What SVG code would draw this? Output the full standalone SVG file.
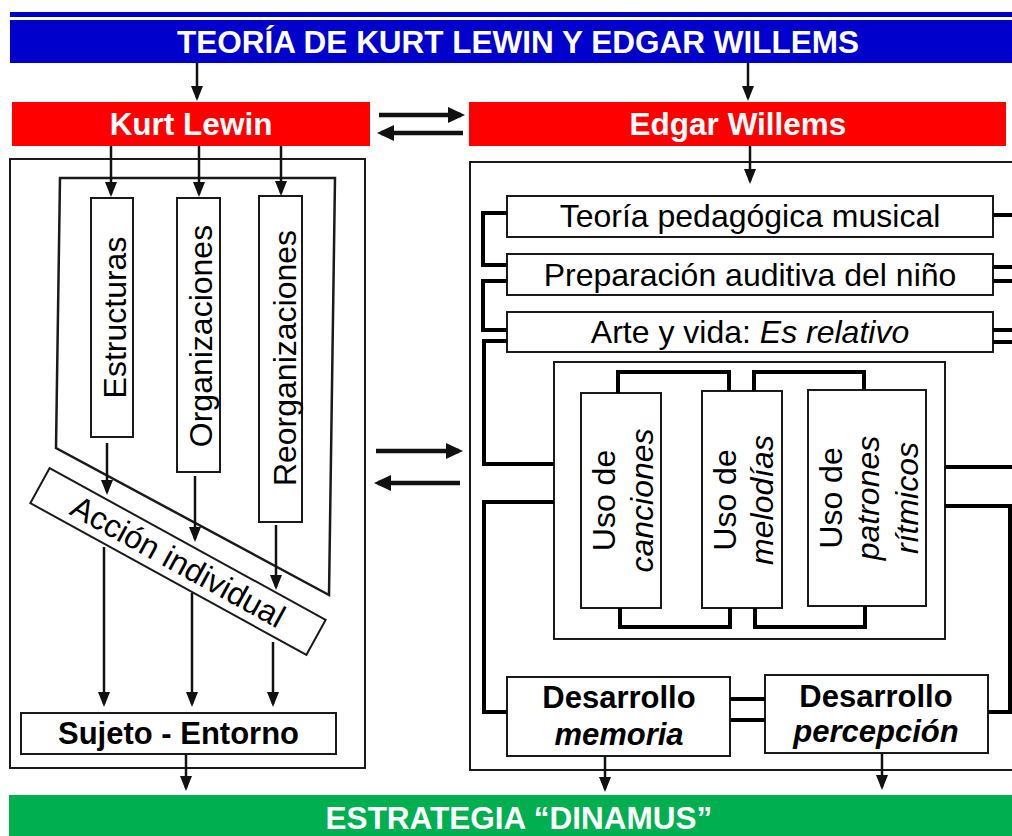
<svg xmlns="http://www.w3.org/2000/svg" width="1012" height="836" viewBox="0 0 1012 836">
<style>
text{font-family:"Liberation Sans",Arial,sans-serif;font-size:32px;fill:#000}
.ti{font-weight:bold;fill:#fff;text-anchor:middle;font-size:31.5px}
.b{fill:#fff;stroke:#1a1a1a;stroke-width:2}
.c{fill:none;stroke:#000;stroke-width:4}
.a{fill:none;stroke:#111;stroke-width:2.5}
.at{fill:none;stroke:#111;stroke-width:4.5}
.m{text-anchor:middle}
.bd{font-weight:bold;font-size:31px}
.it{font-style:italic}
</style>
<defs>
<marker id="ah" markerUnits="userSpaceOnUse" viewBox="0 0 15 12" markerWidth="15" markerHeight="12" refX="12" refY="6" orient="auto"><path d="M0,0 L15,6 L0,12 z" fill="#111"/></marker>
<marker id="aht" markerUnits="userSpaceOnUse" viewBox="0 0 17 16" markerWidth="17" markerHeight="16" refX="13" refY="8" orient="auto"><path d="M0,0 L17,8 L0,16 z" fill="#111"/></marker>
</defs>
<rect width="1012" height="836" fill="#fff"/>

<g id="title">
<rect x="10" y="12" width="1002" height="5" fill="#0000CC"/>
<rect x="10" y="20" width="1002" height="43" fill="#0000CC"/>
<text class="ti" x="518" y="53">TEORÍA DE KURT LEWIN Y EDGAR WILLEMS</text>
</g>
<g id="kurt">
<rect x="12" y="102" width="358" height="44" fill="#FF0000"/>
<text class="ti" x="191" y="135">Kurt Lewin</text>
</g>
<g id="edgar">
<rect x="469" y="102" width="537" height="44" fill="#FF0000"/>
<text class="ti" x="738" y="135">Edgar Willems</text>
</g>
<g id="estrategia">
<rect x="9" y="795" width="1003" height="41" fill="#00B050"/>
<text class="ti" x="519" y="829">ESTRATEGIA “DINAMUS”</text>
</g>

<g id="lewin-frame">
<rect class="b" x="10" y="159" width="355" height="609"/>
<polygon points="56,448 60,178 335,178 329,595" style="fill:none;stroke:#1a1a1a;stroke-width:2.5"/>
</g>
<g id="estructuras">
<rect class="b" x="91" y="198" width="42" height="239"/>
<text class="m" transform="translate(126,317.5) rotate(-90)">Estructuras</text>
</g>
<g id="organizaciones">
<rect class="b" x="177" y="198" width="43" height="274"/>
<text class="m" transform="translate(212,336) rotate(-90)">Organizaciones</text>
</g>
<g id="reorganizaciones">
<rect class="b" x="259" y="196" width="43" height="326"/>
<text class="m" transform="translate(296,358) rotate(-90)">Reorganizaciones</text>
</g>
<g id="accion" transform="translate(178,561.5) rotate(28.8)">
<rect class="b" x="-157.5" y="-20" width="315" height="40"/>
<text class="m" x="0" y="11">Acción individual</text>
</g>
<g id="sujeto">
<rect class="b" x="21" y="713" width="315" height="41"/>
<text class="m bd" x="178.5" y="744">Sujeto - Entorno</text>
</g>

<g id="willems-frame">
<rect class="b" x="470" y="162" width="560" height="608"/>
</g>
<g id="teoria">
<rect class="b" x="507" y="196" width="486" height="41"/>
<text class="m" x="750" y="227">Teoría pedagógica musical</text>
</g>
<g id="preparacion">
<rect class="b" x="507" y="254" width="486" height="41"/>
<text class="m" x="750" y="286">Preparación auditiva del niño</text>
</g>
<g id="arte">
<rect class="b" x="507" y="312" width="486" height="40"/>
<text class="m" x="750" y="343">Arte y vida: <tspan class="it">Es relativo</tspan></text>
</g>
<g id="usos-frame">
<rect class="b" x="554" y="362" width="391" height="277"/>
</g>
<g id="canciones">
<rect class="b" x="581" y="393" width="80" height="215"/>
<text class="m" transform="translate(615,500.5) rotate(-90)"><tspan x="0" y="0">Uso de</tspan><tspan class="it" x="0" y="38">canciones</tspan></text>
</g>
<g id="melodias">
<rect class="b" x="702" y="391" width="80" height="217"/>
<text class="m" transform="translate(736,500) rotate(-90)"><tspan x="0" y="0">Uso de</tspan><tspan class="it" x="0" y="37">melodías</tspan></text>
</g>
<g id="patrones">
<rect class="b" x="808" y="390" width="118" height="216"/>
<text class="m" transform="translate(842,498) rotate(-90)"><tspan x="0" y="0">Uso de</tspan><tspan class="it" x="0" y="37">patrones</tspan><tspan class="it" x="0" y="76">rítmicos</tspan></text>
</g>
<g id="memoria">
<rect class="b" x="507" y="677" width="223" height="79"/>
<text class="m bd" x="619" y="708">Desarrollo</text>
<text class="m bd it" x="619" y="745">memoria</text>
</g>
<g id="percepcion">
<rect class="b" x="765" y="675" width="223" height="78"/>
<text class="m bd" x="876" y="707">Desarrollo</text>
<text class="m bd it" x="876" y="742">percepción</text>
</g>

<g id="connectors">
<line class="a" x1="197" y1="63" x2="197" y2="98" marker-end="url(#ah)"/>
<line class="a" x1="748" y1="63" x2="748" y2="98" marker-end="url(#ah)"/>
<line class="at" x1="379" y1="115" x2="461" y2="115" marker-end="url(#aht)"/>
<line class="at" x1="463" y1="133" x2="381" y2="133" marker-end="url(#aht)"/>
<line class="at" x1="376" y1="451" x2="459" y2="451" marker-end="url(#aht)"/>
<line class="at" x1="460" y1="483" x2="378" y2="483" marker-end="url(#aht)"/>
<line class="a" x1="111" y1="146" x2="111" y2="194" marker-end="url(#ah)"/>
<line class="a" x1="199" y1="146" x2="199" y2="194" marker-end="url(#ah)"/>
<line class="a" x1="281" y1="146" x2="281" y2="193" marker-end="url(#ah)"/>
<line class="a" x1="107" y1="443" x2="107" y2="492" marker-end="url(#ah)"/>
<line class="a" x1="195" y1="476" x2="195" y2="539" marker-end="url(#ah)"/>
<line class="a" x1="276" y1="525" x2="276" y2="587" marker-end="url(#ah)"/>
<line class="a" x1="104" y1="547" x2="104" y2="704" marker-end="url(#ah)"/>
<line class="a" x1="192" y1="593" x2="192" y2="704" marker-end="url(#ah)"/>
<line class="a" x1="273" y1="642" x2="273" y2="704" marker-end="url(#ah)"/>
<line class="a" x1="186" y1="754" x2="186" y2="788" marker-end="url(#ah)"/>
<line class="a" x1="750" y1="146" x2="750" y2="181" marker-end="url(#ah)"/>
<line class="a" x1="605" y1="756" x2="605" y2="789" marker-end="url(#ah)"/>
<line class="a" x1="882" y1="753" x2="882" y2="787" marker-end="url(#ah)"/>
<path class="c" d="M507,213 H483 V265 H507"/>
<path class="c" d="M507,281 H483 V330 H507"/>
<path class="c" d="M507,341 H484 V464 H554"/>
<path class="c" d="M554,502 H484 V712 H507"/>
<path class="c" d="M993,215 H1014 M993,267 H1014 M993,281 H1014 M993,330 H1014 M993,342 H1014"/>
<path class="c" d="M945,467 H1014"/>
<path class="c" d="M945,506 H1010 V712 H988"/>
<path class="c" d="M730,699 H765 M730,720 H765"/>
<path class="c" d="M618,393 V372 H729 V391"/>
<path class="c" d="M754,391 V372 H864 V390"/>
<path class="c" d="M620,608 V627 H730 V608"/>
<path class="c" d="M755,608 V627 H865 V606"/>
</g>
</svg>
